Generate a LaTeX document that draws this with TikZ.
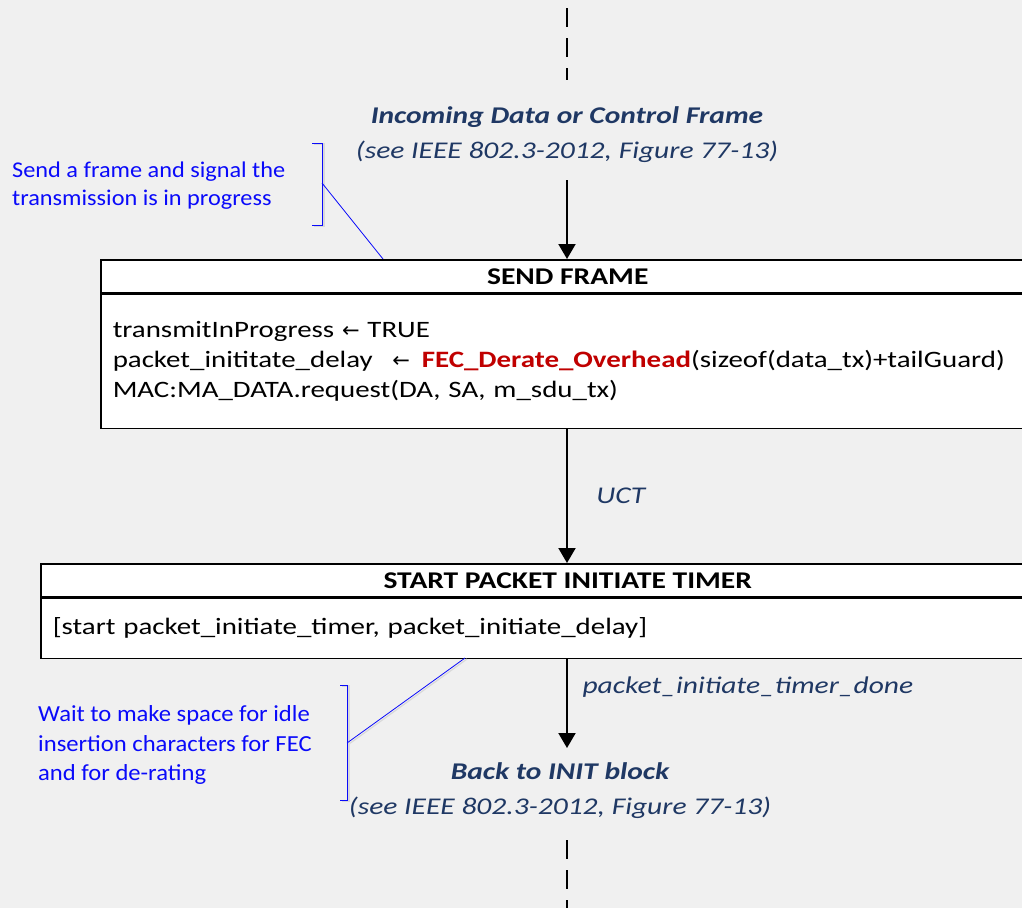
\documentclass[tikz,border=0pt]{standalone}
\usepackage{fontspec}
\setmainfont{Carlito}[FakeStretch=1.23]
\newfontfamily\noteAfont{Carlito}[FakeStretch=1.08]
\newfontfamily\noteBfont{Carlito}[FakeStretch=1.07]
\newfontfamily\arrowfont{DejaVu Sans}
\newcommand{\getsarrow}{{\arrowfont\fontsize{21}{21}\selectfont ←}}
\usetikzlibrary{arrows.meta,positioning}
\definecolor{bgray}{HTML}{F0F0F0}
\definecolor{navy}{HTML}{1F3864}
\definecolor{noteblue}{HTML}{0A0AFA}
\definecolor{fecred}{HTML}{C00000}
\definecolor{shade}{HTML}{D9D9D9}
\tikzset{
  headbox/.style={draw=black, line width=1.5pt, fill=white, anchor=north west,
    minimum height=33pt, inner sep=0pt, font=\fontsize{24}{28}\selectfont\bfseries},
  bodybox/.style={draw=black, line width=1.5pt, fill=white, anchor=north west,
    inner xsep=12pt, inner ysep=0pt, align=left, font=\fontsize{23.5}{30}\selectfont},
  flow/.style={draw=black, line width=2pt, -{Triangle[width=17pt,length=15pt]}},
  dashflow/.style={draw=black, line width=2.5pt, dash pattern=on 19pt off 11pt},
  statetext/.style={text=navy, align=center, font=\fontsize{24}{35}\selectfont\itshape},
  condlabel/.style={text=navy, anchor=west, font=\fontsize{24}{28}\selectfont\itshape},
  note/.style={text=noteblue, anchor=west, align=left, inner sep=0pt},
  bracket/.style={draw=noteblue, line width=1pt},
  leader/.style={draw=noteblue, line width=0.8pt},
  shadowline/.style={draw=shade, line width=1.2pt, transform canvas={xshift=2pt,yshift=-1pt}}
}
\begin{document}
\begin{tikzpicture}[x=1pt,y=-1pt]
  \fill[bgray] (0,0) rectangle (1022,908);
  \useasboundingbox (0,0) rectangle (1022,908);
  \clip (0,0) rectangle (1022,908);

  % entry point from the previous diagram
  \coordinate (topA) at (567,8);
  \coordinate (topB) at (567,80);
  \draw[dashflow] (topA) -- (topB);
  \node[statetext] (incoming) at (567,135)
    {\textbf{Incoming Data or Control Frame}\\(see IEEE 802.3-2012, Figure 77-13)};
  \coordinate (inArrow) at (567,180);

  % annotation for SEND FRAME (drawn first so the box covers the leader end)
  \node[note, font=\noteAfont\fontsize{22.5}{28}\selectfont] (note1) at (12,186)
    {Send a frame and signal the\\transmission is in progress};
  \coordinate (b1top) at (322,143);
  \coordinate (b1bot) at (322,225);
  \coordinate (b1mid) at (322,183);
  \coordinate (b1end) at (383,259);
  \draw[shadowline] ([xshift=-10pt]b1top) -- (b1top) -- (b1bot) -- ([xshift=-10pt]b1bot);
  \draw[bracket] ([xshift=-10pt]b1top) -- (b1top) -- (b1bot) -- ([xshift=-10pt]b1bot);
  \draw[leader] (b1mid) -- (b1end);

  % SEND FRAME state
  \node[headbox, minimum width=934pt] (sfhead) at (100,259) {SEND FRAME};
  \node[bodybox, minimum width=934pt, text width=910pt, minimum height=134pt] (sfbody) at (sfhead.south west)
    {transmitInProgress \getsarrow\ TRUE\\
     packet\_inititate\_delay\ \ \hspace{4pt}\getsarrow\hspace{4pt} \textcolor{fecred}{\bfseries FEC\_Derate\_Overhead}(sizeof(data\_tx)+tailGuard)\\
     MAC:MA\_DATA.request(DA, SA, m\_sdu\_tx)};
  \draw[flow] (inArrow) -- (sfhead.north -| inArrow);

  % START PACKET INITIATE TIMER state
  \node[headbox, minimum width=1054pt] (sthead) at (40,563) {START PACKET INITIATE TIMER};
  \node[bodybox, minimum width=1054pt, text width=1030pt, minimum height=60pt, inner xsep=9pt] (stbody) at (sthead.south west)
    {[start packet\_initiate\_timer, packet\_initiate\_delay]};
  \draw[flow] (sfbody.south -| inArrow) -- node[condlabel, right=25pt] (uct) {UCT} (sthead.north -| inArrow);

  % exit towards INIT
  \coordinate (outArrow) at (567,748);
  \draw[flow] (stbody.south -| inArrow) -- (outArrow);
  \node[condlabel] (done) at (579,687) {packet\_initiate\_timer\_done};
  \node[statetext] (backinit) at (560,791)
    {\textbf{Back to INIT block}\\(see IEEE 802.3-2012, Figure 77-13)};
  \coordinate (botA) at (567,840);
  \coordinate (botB) at (567,908);
  \draw[dashflow] (botA) -- (botB);

  % annotation for START PACKET INITIATE TIMER
  \node[note, font=\noteBfont\fontsize{23}{29.6}\selectfont] (note2) at (38,745)
    {Wait to make space for idle\\insertion characters for FEC\\and for de-rating};
  \coordinate (b2top) at (347,685);
  \coordinate (b2bot) at (347,800);
  \coordinate (b2mid) at (347,743);
  \coordinate (b2end) at (465,658);
  \draw[shadowline] ([xshift=-7pt]b2top) -- (b2top) -- (b2bot) -- ([xshift=-7pt]b2bot);
  \draw[shadowline] (b2mid) -- (b2end);
  \draw[bracket] ([xshift=-7pt]b2top) -- (b2top) -- (b2bot) -- ([xshift=-7pt]b2bot);
  \draw[leader] (b2mid) -- (b2end);
\end{tikzpicture}
\end{document}
